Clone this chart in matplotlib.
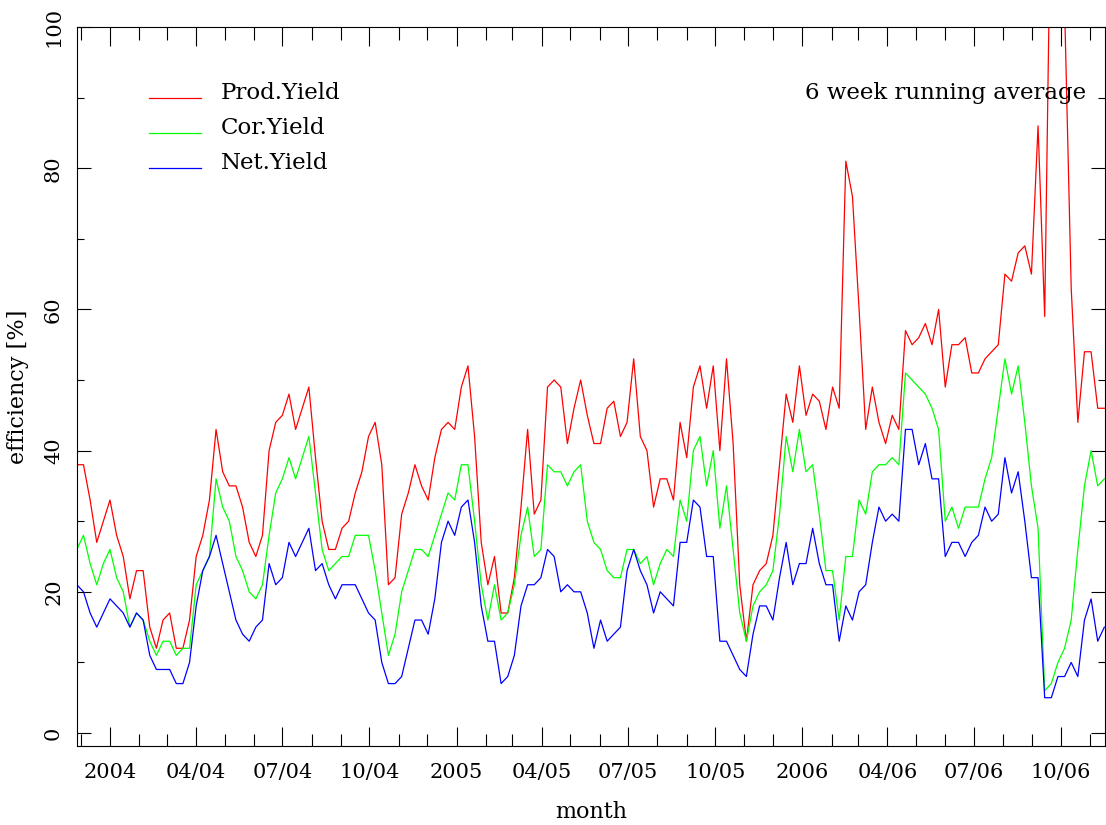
import matplotlib
matplotlib.use("Agg")
import matplotlib.pyplot as plt
import matplotlib.dates as mdates
from matplotlib.ticker import MultipleLocator
from datetime import date, timedelta

# weekly samples, 6 week running average
first_week = date(2003, 11, 27)

prod_yield = [38, 38, 33, 27, 30, 33, 28, 25, 19, 23, 23, 15, 12, 16, 17, 12, 12, 16, 25, 28,
              33, 43, 37, 35, 35, 32, 27, 25, 28, 40, 44, 45, 48, 43, 46, 49, 39, 30, 26, 26,
              29, 30, 34, 37, 42, 44, 38, 21, 22, 31, 34, 38, 35, 33, 39, 43, 44, 43, 49, 52,
              42, 27, 21, 25, 17, 17, 22, 32, 43, 31, 33, 49, 50, 49, 41, 46, 50, 45, 41, 41,
              46, 47, 42, 44, 53, 42, 40, 32, 36, 36, 33, 44, 39, 49, 52, 46, 52, 40, 53, 41,
              21, 13, 21, 23, 24, 28, 38, 48, 44, 52, 45, 48, 47, 43, 49, 46, 81, 76, 60, 43,
              49, 44, 41, 45, 43, 57, 55, 56, 58, 55, 60, 49, 55, 55, 56, 51, 51, 53, 54, 55,
              65, 64, 68, 69, 65, 86, 59, 125, 130, 103, 63, 44, 54, 54, 46, 46]
cor_yield = [26, 28, 24, 21, 24, 26, 22, 20, 15, 17, 16, 13, 11, 13, 13, 11, 12, 12, 21, 23,
             25, 36, 32, 30, 25, 23, 20, 19, 21, 28, 34, 36, 39, 36, 39, 42, 34, 26, 23, 24,
             25, 25, 28, 28, 28, 23, 17, 11, 14, 20, 23, 26, 26, 25, 28, 31, 34, 33, 38, 38,
             30, 21, 16, 21, 16, 17, 21, 28, 32, 25, 26, 38, 37, 37, 35, 37, 38, 30, 27, 26,
             23, 22, 22, 26, 26, 24, 25, 21, 24, 26, 25, 33, 30, 40, 42, 35, 40, 29, 35, 26,
             17, 13, 18, 20, 21, 23, 31, 42, 37, 43, 37, 38, 31, 23, 23, 16, 25, 25, 33, 31,
             37, 38, 38, 39, 38, 51, 50, 49, 48, 46, 43, 30, 32, 29, 32, 32, 32, 36, 39, 46,
             53, 48, 52, 44, 35, 29, 6, 7, 10, 12, 16, 26, 35, 40, 35, 36]
net_yield = [21, 20, 17, 15, 17, 19, 18, 17, 15, 17, 16, 11, 9, 9, 9, 7, 7, 10, 18, 23,
             25, 28, 24, 20, 16, 14, 13, 15, 16, 24, 21, 22, 27, 25, 27, 29, 23, 24, 21, 19,
             21, 21, 21, 19, 17, 16, 10, 7, 7, 8, 12, 16, 16, 14, 19, 27, 30, 28, 32, 33,
             27, 18, 13, 13, 7, 8, 11, 18, 21, 21, 22, 26, 25, 20, 21, 20, 20, 17, 12, 16,
             13, 14, 15, 23, 26, 23, 21, 17, 20, 19, 18, 27, 27, 33, 32, 25, 25, 13, 13, 11,
             9, 8, 14, 18, 18, 16, 22, 27, 21, 24, 24, 29, 24, 21, 21, 13, 18, 16, 20, 21,
             27, 32, 30, 31, 30, 43, 43, 38, 41, 36, 36, 25, 27, 27, 25, 27, 28, 32, 30, 31,
             39, 34, 37, 30, 22, 22, 5, 5, 8, 8, 10, 8, 16, 19, 13, 15]

weeks = [first_week + timedelta(days=7 * i) for i in range(len(prod_yield))]

series_names = ["Prod.Yield", "Cor.Yield", "Net.Yield"]
quarter_labels = ["2004", "04/04", "07/04", "10/04", "2005", "04/05", "07/05", "10/05",
                  "2006", "04/06", "07/06", "10/06"]
quarter_starts = [date(2004, 1, 1), date(2004, 4, 1), date(2004, 7, 1), date(2004, 10, 1),
                  date(2005, 1, 1), date(2005, 4, 1), date(2005, 7, 1), date(2005, 10, 1),
                  date(2006, 1, 1), date(2006, 4, 1), date(2006, 7, 1), date(2006, 10, 1)]

W, H = 1106, 825
AX_L, AX_R, AX_T, AX_B = 77, 1105, 27, 746
font = "DejaVu Serif"
fs = 15
fs_text = 16.5

fig = plt.figure(figsize=(W / 100, H / 100), dpi=100)
fig.set_facecolor("white")
ax = fig.add_axes([AX_L / W, (H - AX_B) / H, (AX_R - AX_L) / W, (AX_B - AX_T) / H])

cols = ["#ff0000", "#00ff00", "#0000ff"]
for vals, col in zip([prod_yield, cor_yield, net_yield], cols):
    ax.plot(weeks, vals, color=col, lw=0.9)

# date axis: 2004-01-01 sits at 110 px, 0.947 px per day
x0 = mdates.date2num(date(2004, 1, 1))
ax.set_xlim(x0 - (110 - AX_L) / 0.947, x0 + (AX_R - 110) / 0.947)
ax.set_ylim(-1.84, 100)

ax.xaxis.set_minor_locator(mdates.MonthLocator())
ax.set_xticks([mdates.date2num(d) for d in quarter_starts])
ax.set_xticklabels(quarter_labels, fontsize=fs, family=font)
ax.yaxis.set_major_locator(MultipleLocator(20))
ax.yaxis.set_minor_locator(MultipleLocator(10))
ax.tick_params(which="both", direction="in", top=True, right=True, width=0.8, colors="black")
ax.tick_params(which="major", length=10)
ax.tick_params(which="minor", length=5)
ax.tick_params(axis="x", which="major", length=14, pad=12)
ax.tick_params(axis="x", which="minor", length=9)
ax.tick_params(axis="y", which="major", pad=10)
for lab in ax.get_yticklabels():
    lab.set_rotation(90)
    lab.set_va("center")
    lab.set_family(font)
    lab.set_fontsize(fs)
for s in ax.spines.values():
    s.set_linewidth(0.8)

ax.set_xlabel("month", fontsize=16, family=font, labelpad=14)
ax.set_ylabel("efficiency [%]", fontsize=16, family=font, labelpad=11)


def axpos(px, py):
    return (px - AX_L) / (AX_R - AX_L), (AX_B - py) / (AX_B - AX_T)


# hand drawn legend
for k, (name, col) in enumerate(zip(series_names, cols)):
    ly = 97.7 + 35 * k
    xa, ya = axpos(149, ly)
    xb, _ = axpos(201, ly)
    ax.plot([xa, xb], [ya, ya], color=col, lw=0.9, transform=ax.transAxes)
    tx, ty = axpos(221, ly + 1.5)
    ax.text(tx, ty, name, transform=ax.transAxes, fontsize=fs_text, family=font,
            va="baseline", ha="left")

tx, ty = axpos(1086, 99)
ax.text(tx, ty, "6 week running average", transform=ax.transAxes, fontsize=fs_text,
        family=font, va="baseline", ha="right")

fig.savefig("out.png", dpi=100, facecolor="white")
